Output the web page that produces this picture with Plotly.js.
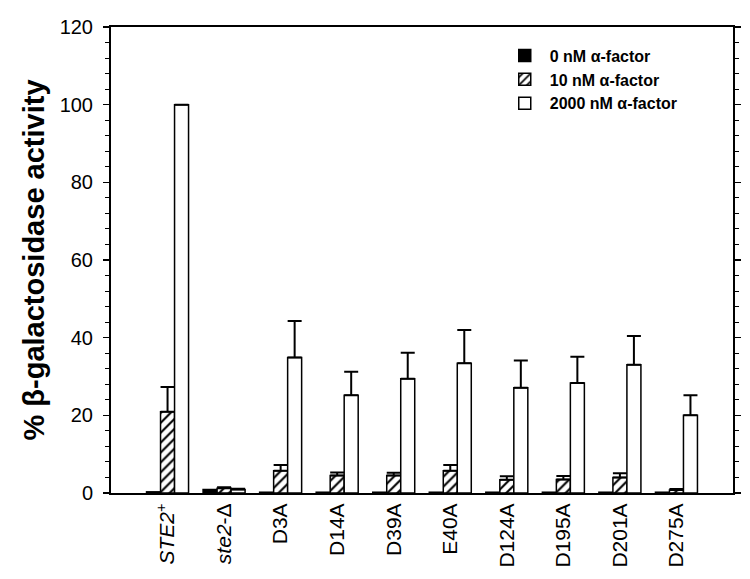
<!DOCTYPE html>
<html>
<head>
<meta charset="utf-8">
<script src="https://cdn.plot.ly/plotly-3.0.1.min.js"></script>
<style>html,body{margin:0;padding:0;background:#fff;}#chart{width:750px;height:579px;}</style>
</head>
<body>
<div id="chart"></div>
<script>
var categories = ['STE2+', 'ste2-D', 'D3A', 'D14A', 'D39A', 'E40A', 'D124A', 'D195A', 'D201A', 'D275A'];
var tickLabels = ['<i>STE2</i><sup>+</sup>', '<i>ste2</i>-Δ', 'D3A', 'D14A', 'D39A', 'E40A', 'D124A', 'D195A', 'D201A', 'D275A'];
var seriesNames = ['0 nM α-factor', '10 nM α-factor', '2000 nM α-factor'];
var values0 = [0.3, 0.9, 0.2, 0.2, 0.2, 0.2, 0.2, 0.2, 0.2, 0.2];
var values10 = [20.9, 1.2, 5.7, 4.5, 4.5, 5.7, 3.4, 3.5, 4.0, 0.8];
var err10 = [6.4, 0.3, 1.5, 0.8, 0.7, 1.5, 0.9, 0.9, 1.1, 0.2];
var values2000 = [100, 0.9, 34.9, 25.2, 29.4, 33.4, 27.1, 28.3, 33.0, 20.0];
var err2000 = [0, 0.2, 9.4, 6.0, 6.7, 8.6, 7.0, 6.8, 7.4, 5.2];

var idx = categories.map(function(_, i){ return i; });
var zeros = categories.map(function(){ return 0; });
var outline = {color: '#000', width: 1.5};

function errs(arr){
  return {type: 'data', symmetric: false, array: arr, arrayminus: zeros,
          color: '#000', thickness: 2, width: 7};
}

var traces = [
  {type: 'bar', name: seriesNames[0], x: idx, y: values0,
   marker: {color: '#000', line: outline}},
  {type: 'bar', name: seriesNames[1], x: idx, y: values10, error_y: errs(err10),
   marker: {color: '#fff', line: outline,
            pattern: {shape: '/', fgcolor: '#000', bgcolor: '#fff', size: 7, solidity: 0.3}}},
  {type: 'bar', name: seriesNames[2], x: idx, y: values2000, error_y: errs(err2000),
   marker: {color: '#fff', line: outline}}
];

var FONT = 'Liberation Sans, Arial, sans-serif';

var layout = {
  width: 750, height: 579,
  margin: {l: 111, r: 17, t: 27, b: 86},
  paper_bgcolor: '#fff', plot_bgcolor: '#fff',
  font: {family: FONT, color: '#000'},
  barmode: 'group', bargap: 0.257, bargroupgap: 0,
  showlegend: true,
  legend: {x: 0.625, y: 0.975, xanchor: 'left', yanchor: 'top', bgcolor: 'rgba(0,0,0,0)',
           font: {size: 16, weight: 'bold', family: FONT},
           tracegroupgap: 0, itemwidth: 40},
  xaxis: {range: [-1, 10], tickvals: idx, ticktext: tickLabels, tickangle: -90,
          ticks: '', showline: true, linecolor: '#000', linewidth: 2, mirror: true,
          showgrid: false, zeroline: false,
          tickfont: {size: 21, family: FONT, color: '#000'}},
  yaxis: {range: [0, 120], dtick: 20, ticks: 'outside', ticklen: 6, tickwidth: 1.5,
          tickcolor: '#000', showline: true, linecolor: '#000', linewidth: 2,
          mirror: 'allticks', showgrid: false, zeroline: false, ticklabelstandoff: 6,
          minor: {dtick: 4, ticks: 'outside', ticklen: 4, tickwidth: 1, tickcolor: '#000', showgrid: false},
          tickfont: {size: 20, family: FONT, color: '#000'},
          title: {text: '% β-galactosidase activity', standoff: 6,
                  font: {size: 29, weight: 'bold', family: FONT, color: '#000'}}}
};

Plotly.newPlot('chart', traces, layout, {displayModeBar: false, staticPlot: true});
</script>
</body>
</html>
